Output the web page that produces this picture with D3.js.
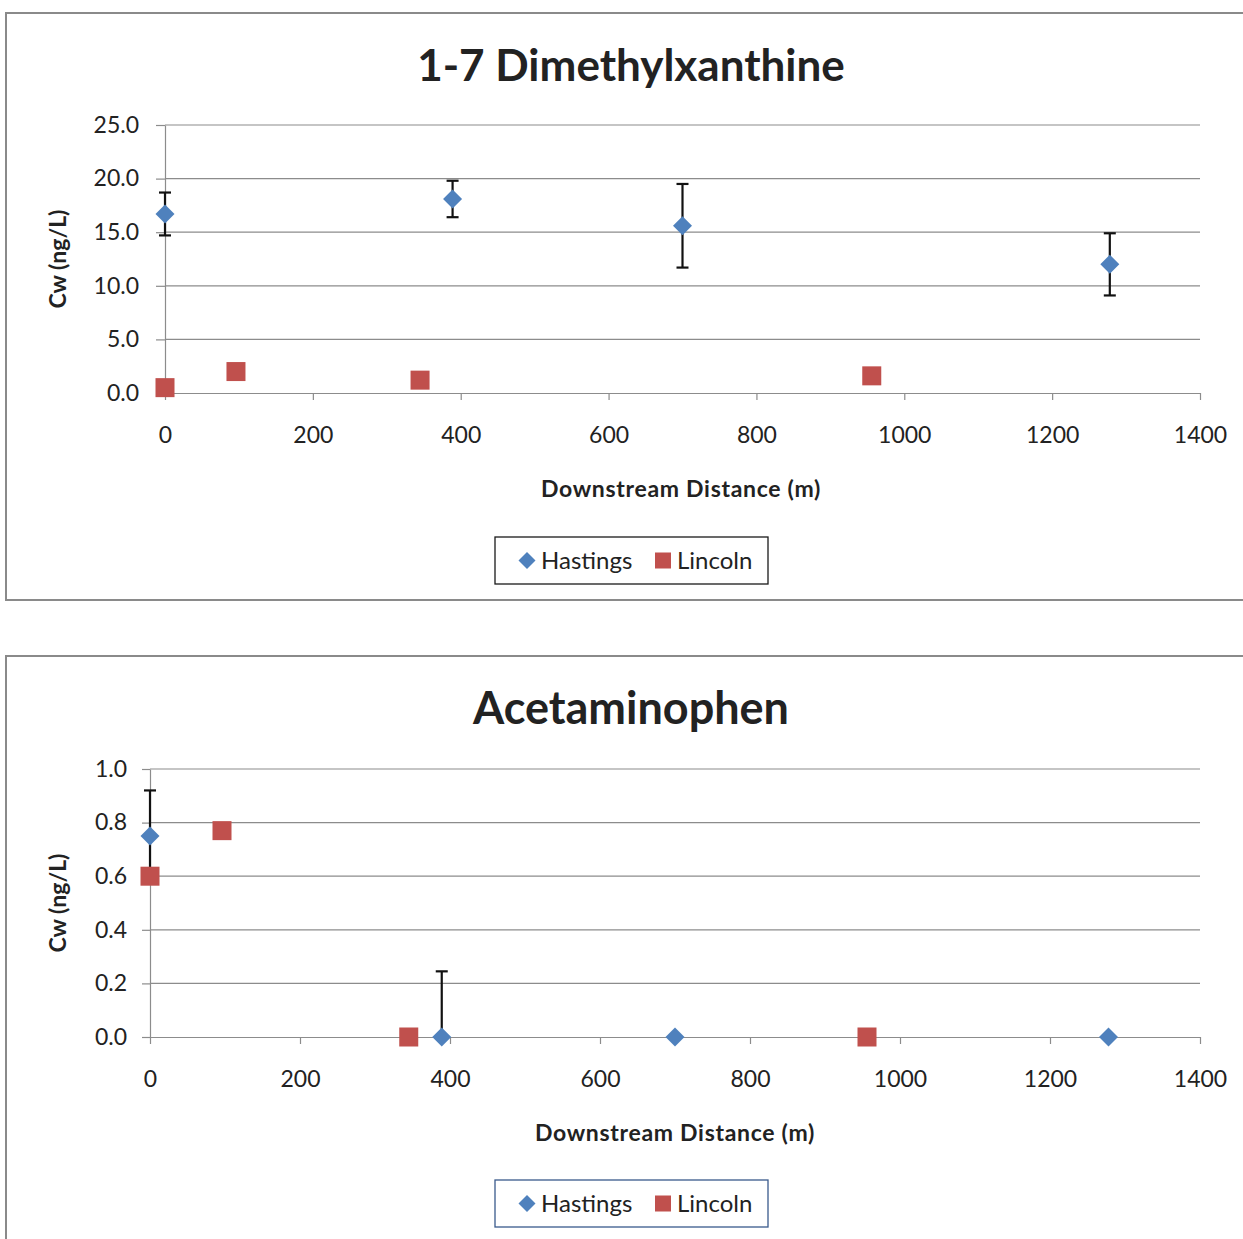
<!DOCTYPE html>
<html><head><meta charset="utf-8">
<script src="https://cdn.jsdelivr.net/npm/d3@7"></script>
<style>body{margin:0;background:#fff;overflow:hidden} text{font-family:Lato,"Open Sans",sans-serif;fill:#222}</style>
</head><body><svg id="c" width="1243" height="1239"></svg>
<script>
// ---- data ----
const seriesNames = ["Hastings", "Lincoln"];
const hastingsX = [0, 389, 700, 1278];
const lincolnX = [0, 96, 345, 956];
const dmxHastings = [16.7, 18.1, 15.6, 12.0];
const dmxHastingsErr = [2.0, 1.7, 3.9, 2.9];
const dmxLincoln = [0.5, 2.0, 1.2, 1.6];
const acetHastings = [0.75, 0.0, 0.0, 0.0];
const acetHastingsErr = [0.17, 0.245, 0, 0];
const acetLincoln = [0.6, 0.77, 0.0, 0.0];
const xTicks = [0, 200, 400, 600, 800, 1000, 1200, 1400];
const dmxYTicks = [0, 5, 10, 15, 20, 25];
const acetYTicks = [0, 0.2, 0.4, 0.6, 0.8, 1.0];
const titles = ["1-7 Dimethylxanthine", "Acetaminophen"];
const xTitle = "Downstream Distance (m)";
const yTitle = "Cw (ng/L)";

const BLUE = "#4F81BD", RED = "#C0504D", GRID = "#8c8c8c";
const svg = d3.select("#c");
const diamond = r => `M0,${-r}L${r},0L0,${r}L${-r},0Z`;

function drawChart(cfg) {
  const g = svg.append("g");
  g.append("rect").attr("x", cfg.fx).attr("y", cfg.fy).attr("width", 1300).attr("height", cfg.fh)
    .attr("fill", "#fff").attr("stroke", "#8a8a8a").attr("stroke-width", 2);
  const x = d3.scaleLinear().domain([0, 1400]).range([cfg.left, cfg.right]);
  const y = d3.scaleLinear().domain([0, cfg.ymax]).range([cfg.bottom, cfg.top]);

  g.append("g").selectAll("line").data(cfg.yTicks.filter(d => d > 0)).join("line")
    .attr("x1", cfg.left).attr("x2", cfg.right).attr("y1", d => y(d)).attr("y2", d => y(d))
    .attr("stroke", GRID).attr("stroke-width", 1.2);

  const ya = g.append("g").attr("transform", `translate(${cfg.left},0)`)
    .call(d3.axisLeft(y).tickValues(cfg.yTicks).tickFormat(d3.format(".1f")).tickSizeOuter(0).tickSizeInner(cfg.ytick).tickPadding(cfg.ypad));
  ya.select(".domain").attr("stroke", GRID).attr("stroke-width", 1.2);
  ya.selectAll(".tick line").attr("stroke", GRID).attr("stroke-width", 1.2);
  ya.selectAll("text").style("font-size", "23px").attr("fill", "#222");

  const xa = g.append("g").attr("transform", `translate(0,${cfg.bottom})`)
    .call(d3.axisBottom(x).tickValues(xTicks).tickFormat(d3.format("d")).tickSizeOuter(0).tickSizeInner(7).tickPadding(27));
  xa.select(".domain").attr("stroke", GRID).attr("stroke-width", 1.2);
  xa.selectAll(".tick line").attr("stroke", GRID).attr("stroke-width", 1.2);
  xa.selectAll("text").style("font-size", "23px").attr("fill", "#222");

  g.append("text").attr("x", 631).attr("y", cfg.fy + 68).attr("text-anchor", "middle")
    .style("font-size", cfg.tsize).style("font-weight", "bold").attr("fill", "#111").text(cfg.title);
  g.append("text").attr("x", cfg.xtx).attr("y", cfg.bottom + 104).attr("text-anchor", "middle")
    .style("font-size", "23px").style("font-weight", "bold").style("letter-spacing", "0.7px").text(xTitle);
  g.append("text").attr("transform", `translate(66,${(cfg.top + cfg.bottom) / 2}) rotate(-90)`).attr("text-anchor", "middle")
    .style("font-size", "23px").style("font-weight", "bold").text(yTitle);

  const eb = g.append("g").attr("stroke", "#111").attr("stroke-width", 2.2);
  hastingsX.forEach((xv, i) => {
    const e = cfg.hErr[i];
    if (!e) return;
    const v = cfg.h[i];
    const hi = Math.min(cfg.ymax, v + e), lo = Math.max(0, v - e);
    eb.append("line").attr("x1", x(xv)).attr("x2", x(xv)).attr("y1", y(hi)).attr("y2", y(lo));
    eb.append("line").attr("x1", x(xv) - 6).attr("x2", x(xv) + 6).attr("y1", y(hi)).attr("y2", y(hi));
    if (v - e > 0) eb.append("line").attr("x1", x(xv) - 6).attr("x2", x(xv) + 6).attr("y1", y(lo)).attr("y2", y(lo));
  });

  g.append("g").selectAll("path").data(hastingsX.map((xv, i) => [xv, cfg.h[i]])).join("path")
    .attr("d", diamond(9.5)).attr("transform", d => `translate(${x(d[0])},${y(d[1])})`)
    .attr("fill", BLUE);

  const s = 19;
  g.append("g").selectAll("rect").data(lincolnX.map((xv, i) => [xv, cfg.l[i]])).join("rect")
    .attr("x", d => x(d[0]) - s / 2).attr("y", d => y(d[1]) - s / 2).attr("width", s).attr("height", s)
    .attr("fill", RED);

  const lx = 495, ly = cfg.fy + 524, lw = 273, lh = 47;
  const lg = g.append("g");
  lg.append("rect").attr("x", lx).attr("y", ly).attr("width", lw).attr("height", lh)
    .attr("fill", "#fff").attr("stroke", cfg.legStroke).attr("stroke-width", 1.3);
  lg.append("path").attr("d", diamond(8.5))
    .attr("transform", `translate(527,${ly + lh / 2})`).attr("fill", BLUE);
  lg.append("rect").attr("x", 655).attr("y", ly + lh / 2 - 8).attr("width", 16).attr("height", 16).attr("fill", RED);
  lg.append("text").attr("x", 541).attr("y", ly + lh / 2 + 8).style("font-size", "24px").text(seriesNames[0]);
  lg.append("text").attr("x", 677).attr("y", ly + lh / 2 + 8).style("font-size", "24px").text(seriesNames[1]);
}

drawChart({fx: 6, fy: 13, fh: 587, left: 165, right: 1200, top: 125, bottom: 393, ymax: 25,
  yTicks: dmxYTicks, ytick: 9, ypad: 17, title: titles[0], tsize: "44px", xtx: 681,
  h: dmxHastings, hErr: dmxHastingsErr, l: dmxLincoln, legStroke: "#1a1a1a"});
drawChart({fx: 6, fy: 656, fh: 640, left: 150, right: 1200, top: 769, bottom: 1037, ymax: 1.0,
  yTicks: acetYTicks, ytick: 8, ypad: 15, title: titles[1], tsize: "45px", xtx: 675,
  h: acetHastings, hErr: acetHastingsErr, l: acetLincoln, legStroke: "#3A5A8C"});
</script></body></html>
